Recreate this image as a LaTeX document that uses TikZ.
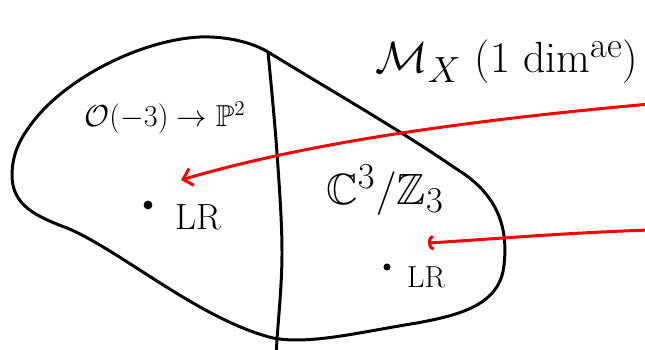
\documentclass[tikz,border=0pt]{standalone}
\usepackage{amsmath, amssymb}
\usetikzlibrary{positioning,arrows.meta}
\definecolor{penRed}{RGB}{255,0,0}

\begin{document}
\begin{tikzpicture}[x=0.02cm, y=-0.02cm,
    pen/.style={line width=1.7pt, line cap=round, line join=round},
    redpen/.style={line width=1.7pt, line cap=round, draw=penRed},
    pt/.style={circle, fill=black, inner sep=0pt, minimum size=5pt},
    lbl/.style={font=\LARGE, inner sep=0pt}
]
\useasboundingbox (0,0) rectangle (645,350);

% Outline of the moduli space
\draw[pen] (200,37) .. controls (230,36) and (255,44) .. (268,52)
    .. controls (330,90) and (400,130) .. (455,168)
    .. controls (500,195) and (508,230) .. (504,265)
    .. controls (500,305) and (460,315) .. (417,323)
    .. controls (360,332) and (310,345) .. (273,338)
    .. controls (200,320) and (120,250) .. (67,228)
    .. controls (35,216) and (12,205) .. (12,175)
    .. controls (12,155) and (20,140) .. (27,130)
    .. controls (60,80) and (140,40) .. (200,37) -- cycle;
% Wall between the two chambers
\draw[pen] plot[smooth, tension=0.6] coordinates {(268,52) (277,153) (282,253) (277,340) (276,355)};

% Labels
\node[lbl] (olabel) at (165,118) {$\mathcal{O}(-3)\to\mathbb{P}^2$};
\node[font=\Huge, inner sep=0pt] (orbilabel) at (385,190) {$\mathbb{C}^3/\mathbb{Z}_3$};
\node[font=\Huge, inner sep=0pt] (mx) at (507,62) {$\mathcal{M}_X$ (1 dim$^{\text{ae}}$)};

% Large radius points
\node[pt] (dotA) at (148,205) {};
\node[font=\huge, inner sep=0pt, right=0.45cm of dotA, yshift=-0.25cm] (lrA) {LR};
\node[pt, minimum size=4pt] (dotB) at (387,267) {};
\node[font=\LARGE, inner sep=0pt, right=0.32cm of dotB, yshift=-0.2cm] (lrB) {LR};

% Arrows coming in from the right
\coordinate (srcA) at (650,104);
\coordinate (tgtA) at (181,180);
\coordinate (srcB) at (650,230);
\coordinate (tgtB) at (428,243);
\draw[redpen, -{Straight Barb[length=5pt, width=10pt]}] (srcA) .. controls (450,122) and (300,145) .. (tgtA);
\draw[redpen, -{Arc Barb[length=3pt, width=9pt]}] (srcB) .. controls (560,233) and (480,240) .. (tgtB);
\end{tikzpicture}
\end{document}
